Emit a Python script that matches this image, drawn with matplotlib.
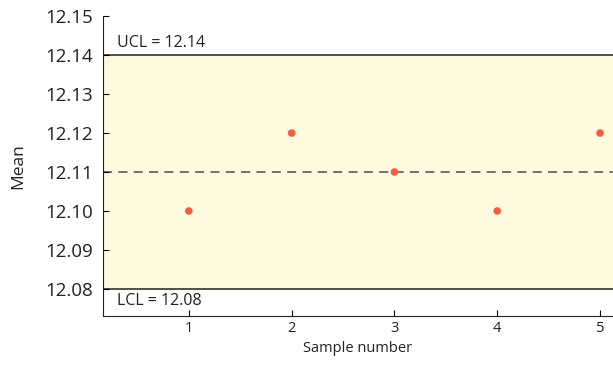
import matplotlib.pyplot as plt

samples = [1, 2, 3, 4, 5]
means = [12.10, 12.12, 12.11, 12.10, 12.12]
ucl = 12.14
lcl = 12.08
center = 12.11
yticks = [12.08, 12.09, 12.10, 12.11, 12.12, 12.13, 12.14, 12.15]

plt.rcParams['font.family'] = ['Open Sans', 'DejaVu Sans']

fig = plt.figure(figsize=(6.13, 3.66), dpi=100)
ax = fig.add_axes([0.168, 0.137, 0.832, 0.819])

ax.set_xlim(0.165, 5.126)
ax.set_ylim(12.0731, 12.15)

ax.axhspan(lcl, ucl, color='#fef9df', zorder=0)
ax.axhline(ucl, color='#333333', lw=1.2, zorder=1)
ax.axhline(lcl, color='#333333', lw=1.2, zorder=1)
ax.axhline(center, color='#666666', lw=1.3, ls=(0, (5, 3.5)), zorder=1)

ax.scatter(samples, means, s=30, color='#f0603f', zorder=3, edgecolors='none')

ax.text(0.3, ucl + 0.0011, 'UCL = 12.14', fontsize=11.5, va='bottom', ha='left', color='#222222')
ax.text(0.3, lcl - 0.0011, 'LCL = 12.08', fontsize=11.5, va='top', ha='left', color='#222222')

ax.set_xticks(samples)
ax.set_yticks(yticks)
ax.set_yticklabels(['%.2f' % v for v in yticks], fontsize=13.5, color='#222222')
ax.tick_params(axis='x', labelsize=10.5, labelcolor='#222222', direction='in', length=4)
ax.tick_params(axis='y', direction='in', length=4, pad=7)

ax.spines['top'].set_visible(False)
ax.spines['right'].set_visible(False)
ax.spines['left'].set_color('#222222')
ax.spines['bottom'].set_color('#222222')

ax.set_xlabel('Sample number', fontsize=10.5, color='#222222', labelpad=4)
ax.set_ylabel('Mean', fontsize=12.5, color='#222222', labelpad=14)

fig.savefig('out.png', dpi=100)
